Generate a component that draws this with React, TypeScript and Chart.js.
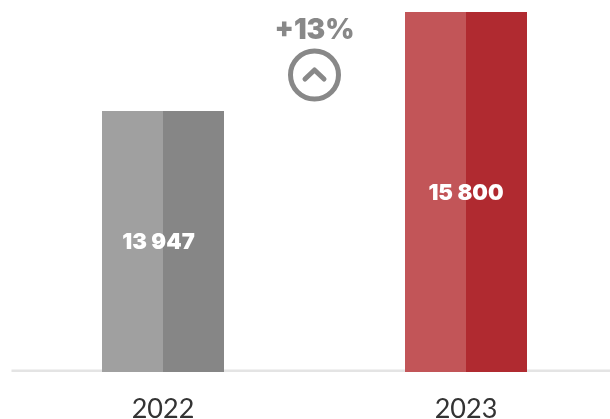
import { useEffect, useRef } from "react";
import { Chart, registerables } from "chart.js";

Chart.register(...registerables);

const years = ["2022", "2023"];
const lightHalf = [13947, 15800];
const darkHalf = [13947, 15800];
const lightColors = ["#a0a0a0", "#c25558"];
const darkColors = ["#868686", "#b02a30"];
const changeLabel = "+13%";
const axisMin = 9062;
const axisMax = 15800;

const boldFamily = "Inter, 'Noto Sans', sans-serif";
const tickFamily = "Lato, 'Noto Sans', sans-serif";
const grey = "#888888";

const formatValue = (v: number) =>
  String(v).replace(/\B(?=(\d{3})+(?!\d))/g, " ");

// Light rule along the foot of the plot, painted underneath the bars.
const baseline = {
  id: "baseline",
  beforeDatasetsDraw(chart: any) {
    const { ctx, chartArea } = chart;
    ctx.save();
    ctx.fillStyle = "#e4e4e4";
    ctx.fillRect(chartArea.left, chartArea.bottom - 2.5, chartArea.right - chartArea.left, 2.5);
    ctx.restore();
  },
};

// Value captions centred on each bar, plus the growth badge between the bars.
const annotations = {
  id: "annotations",
  afterDatasetsDraw(chart: any) {
    const { ctx, scales } = chart;
    const xs = scales.x;
    const ys = scales.y;
    ctx.save();
    ctx.textAlign = "center";
    ctx.textBaseline = "middle";
    ctx.fillStyle = "#ffffff";
    ctx.font = `900 22px ${boldFamily}`;
    years.forEach((_, i) => {
      const x = xs.getPixelForValue(i);
      const y = (ys.getPixelForValue(lightHalf[i]) + ys.bottom) / 2;
      ctx.fillText(formatValue(lightHalf[i]), i === 0 ? x - 4.5 : x, y + 1);
    });

    const mid = (xs.getPixelForValue(0) + xs.getPixelForValue(1)) / 2;
    ctx.fillStyle = grey;
    ctx.font = `900 28px ${boldFamily}`;
    ctx.fillText(changeLabel, mid, 31);

    ctx.strokeStyle = grey;
    ctx.lineWidth = 5;
    ctx.beginPath();
    ctx.arc(mid, 75, 24, 0, Math.PI * 2);
    ctx.stroke();

    ctx.lineCap = "round";
    ctx.lineJoin = "round";
    ctx.lineWidth = 5;
    ctx.beginPath();
    ctx.moveTo(mid - 9.5, 79);
    ctx.lineTo(mid, 70);
    ctx.lineTo(mid + 9.5, 79);
    ctx.stroke();
    ctx.restore();
  },
};

export default function App() {
  const canvasRef = useRef<HTMLCanvasElement>(null);

  useEffect(() => {
    document.body.style.margin = "0";
    const chart = new Chart(canvasRef.current as HTMLCanvasElement, {
      type: "bar",
      data: {
        labels: years,
        datasets: [
          { data: lightHalf, backgroundColor: lightColors, borderWidth: 0 },
          { data: darkHalf, backgroundColor: darkColors, borderWidth: 0 },
        ],
      },
      options: {
        animation: false,
        responsive: false,
        layout: { padding: { top: 12, left: 11.5, right: 0.5, bottom: 0 } },
        plugins: { legend: { display: false }, tooltip: { enabled: false } },
        datasets: { bar: { categoryPercentage: 122 / 303, barPercentage: 1 } },
        scales: {
          x: {
            grid: { display: false, drawTicks: false },
            border: { display: false },
            ticks: {
              color: "#333333",
              padding: 21,
              font: { family: tickFamily, size: 27, weight: "400" },
            },
            afterFit(scale: any) {
              scale.height = 47;
            },
          },
          y: { display: false, min: axisMin, max: axisMax },
        },
      } as any,
      plugins: [baseline, annotations],
    });
    return () => chart.destroy();
  }, []);

  return (
    <div style={{ position: "fixed", left: 0, top: 0, width: 610, height: 419, overflow: "hidden", background: "#fff" }}>
      <canvas ref={canvasRef} width={618} height={419} style={{ display: "block" }} />
    </div>
  );
}
